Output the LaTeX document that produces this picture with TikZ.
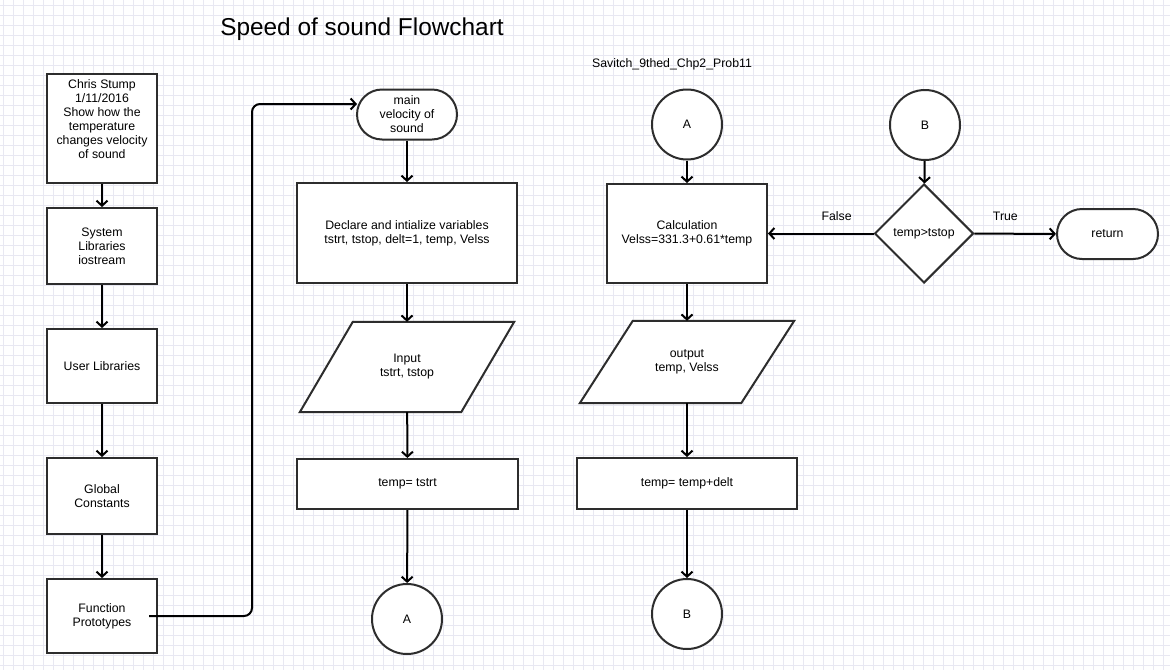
\documentclass[tikz,border=0pt]{standalone}
\usepackage{fontspec}
\setmainfont{Liberation Sans}
\usetikzlibrary{shapes.geometric,arrows.meta,backgrounds}

\definecolor{boxline}{RGB}{45,45,45}
\definecolor{gridcol}{RGB}{232,232,242}

\begin{document}
\begin{tikzpicture}[x=1pt,y=-1pt,
    every node/.style={font=\fontsize{12.3}{14}\selectfont,align=center},
    outline/.style={draw=boxline,line width=2pt,fill=white},
    box/.style={outline,rectangle,inner sep=2pt},
    term/.style={box,rounded corners=25pt,minimum width=100pt,minimum height=50pt},
    conn/.style={box,circle,minimum size=70pt,inner sep=0pt},
    io/.style={rectangle,minimum width=161pt},
    flow/.style={line width=2pt,-{Straight Barb[length=5pt,width=11pt]}}
]
    \useasboundingbox (0,0) rectangle (1170,670);

    % background grid
    \begin{pgfonlayer}{background}
        \fill[white] (0,0) rectangle (1170,670);
        \foreach \gx in {3,13,...,1170}
            \draw[gridcol,line width=0.6pt] (\gx,0) -- (\gx,670);
        \foreach \gy in {5,15,...,670}
            \draw[gridcol,line width=0.6pt] (0,\gy) -- (1170,\gy);
    \end{pgfonlayer}

    \node[font=\fontsize{24.4}{28}\selectfont] (title) at (362,29) {Speed of sound Flowchart};
    \node (prob) at (672,64) {Savitch\_9thed\_Chp2\_Prob11};

    % left column
    \node[box,minimum width=110pt,minimum height=109pt] (info) at (102,128.5)
        {Chris Stump\\1/11/2016\\Show how the\\temperature\\changes velocity\\of sound\\\strut};
    \node[box,minimum width=110pt,minimum height=76pt] (syslib) at (102,246) {System\\Libraries\\iostream};
    \node[box,minimum width=110pt,minimum height=74pt] (userlib) at (102,366) {User Libraries};
    \node[box,minimum width=110pt,minimum height=76pt] (globconst) at (102,496) {Global\\Constants};
    \node[box,minimum width=110pt,minimum height=74pt] (funcproto) at (102,616) {Function\\Prototypes};

    \draw[flow] (info) -- (syslib);
    \draw[flow] (syslib) -- (userlib);
    \draw[flow] (userlib) -- (globconst);
    \draw[flow] (globconst) -- (funcproto);

    % main column
    \node[term] (main) at (407,114.5) {main\\velocity of\\sound};
    \node[box,minimum width=220pt,minimum height=100pt] (declare) at (407,233)
        {Declare and intialize variables\\tstrt, tstop, delt=1, temp, Velss};
    \node[io,minimum height=90pt] (input) at (407,367) {Input\\tstrt, tstop};
    \node[box,minimum width=221pt,minimum height=50pt] (tempset) at (407.5,484) {temp= tstrt};
    \node[conn] (Aout) at (407,619) {A};

    \coordinate (mainin) at (357,104);
    \draw[flow,rounded corners=8pt] ([xshift=-9pt]funcproto.east) -| ([xshift=-105pt]mainin) -- (mainin);

    \draw[flow] (main) -- (declare);
    \draw[flow] (declare) -- (input);
    \draw[flow] (input) -- (tempset);
    \draw[flow] (tempset) -- (Aout);

    % loop column
    \node[conn] (Ain) at (687,124.5) {A};
    \node[box,minimum width=160pt,minimum height=99pt] (calc) at (687,233.5)
        {Calculation\\Velss=331.3+0.61*temp};
    \node[io,minimum height=82pt] (output) at (687,362) {output\\temp, Velss};
    \node[box,minimum width=220pt,minimum height=51pt] (tempinc) at (687,483.5) {temp= temp+delt};
    \node[conn] (Bout) at (687,614) {B};

    \draw[flow] (Ain) -- (calc);
    \draw[flow] (calc) -- (output);
    \draw[flow] (output) -- (tempinc);
    \draw[flow] (tempinc) -- (Bout);

    % slanted outlines of the two io nodes
    \begin{pgfonlayer}{background}
        \foreach \io in {input,output}
            \draw[outline] ([xshift=26.5pt]\io.north west) -- ([xshift=26.5pt]\io.north east)
                -- ([xshift=-26.5pt]\io.south east) -- ([xshift=-26.5pt]\io.south west) -- cycle;
    \end{pgfonlayer}

    % test
    \node[conn] (Bin) at (925,125) {B};
    \node[box,diamond,minimum width=99pt,minimum height=99pt,inner sep=0pt] (test) at (924,233.5) {temp>tstop};
    \node[term,minimum width=101pt] (ret) at (1107.5,234) {return};

    \draw[flow] (Bin) -- (test);
    \draw[flow] (test) -- node[pos=0.35,above=9pt] {False} (calc);
    \draw[flow] (test) -- node[pos=0.38,above=9pt] {True} (ret);

\end{tikzpicture}
\end{document}
